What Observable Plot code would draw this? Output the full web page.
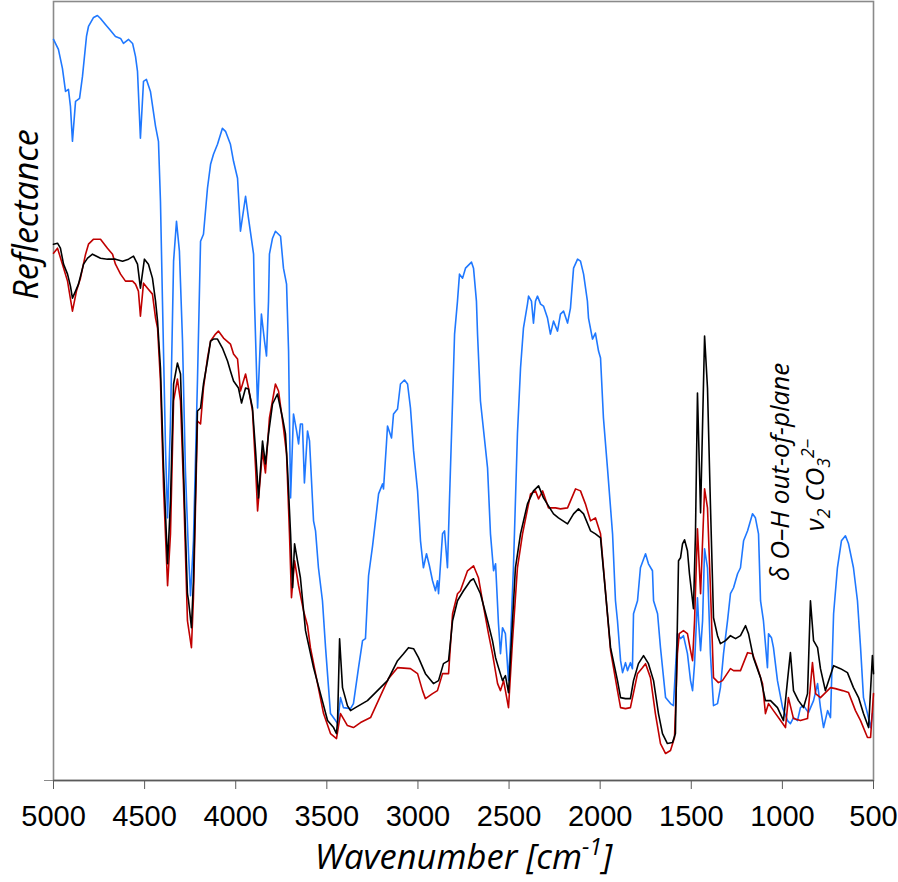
<!DOCTYPE html>
<html>
<head>
<meta charset="utf-8">
<script src="https://cdn.jsdelivr.net/npm/d3@7"></script>
<script src="https://cdn.jsdelivr.net/npm/@observablehq/plot@0.6"></script>
<style>
  body { margin: 0; background: #fff; }
</style>
</head>
<body>
<div id="chart"></div>
<script>
// ---- tick labels ----
const xTicks = [5000, 4500, 4000, 3500, 3000, 2500, 2000, 1500, 1000, 500];

// ---- blue spectrum ----
const blueW = [5000,4973,4951,4934,4918,4907,4896,4879,4857,4841,4819,4808,4780,4759,4742,4715,4687,4660,4632,4616,4588,4566,4550,4539,4523,4506,4490,4468,4440,4424,4413,4402,4385,4374,4358,4341,4325,4309,4292,4276,4259,4248,4232,4210,4193,4177,4155,4138,4122,4100,4073,4056,4029,4012,3990,3974,3946,3930,3902,3897,3880,3859,3842,3831,3820,3815,3798,3782,3754,3738,3721,3710,3699,3683,3666,3655,3645,3634,3623,3606,3595,3573,3562,3546,3524,3507,3480,3452,3441,3425,3409,3370,3354,3326,3304,3288,3271,3249,3233,3216,3194,3189,3173,3167,3145,3134,3112,3096,3074,3057,3041,3024,3002,2986,2970,2953,2937,2920,2904,2893,2887,2865,2854,2838,2827,2810,2799,2783,2772,2755,2739,2706,2695,2679,2673,2657,2618,2602,2585,2574,2558,2547,2536,2520,2503,2492,2476,2454,2437,2421,2399,2393,2377,2366,2355,2344,2327,2311,2289,2273,2256,2234,2218,2201,2179,2163,2146,2124,2108,2091,2070,2064,2042,2026,2009,1998,1982,1960,1932,1916,1905,1888,1877,1861,1850,1834,1823,1817,1795,1779,1751,1735,1713,1707,1685,1669,1641,1614,1598,1576,1559,1543,1521,1504,1493,1482,1466,1460,1449,1438,1427,1411,1395,1378,1356,1340,1323,1301,1285,1268,1246,1230,1213,1191,1164,1148,1131,1120,1104,1082,1076,1060,1049,1027,999,972,956,939,917,901,884,857,829,807,791,774,752,736,719,698,676,654,637,610,588,571,555,533,516,506];
const blueR = [74.2,73.2,71.3,69.0,69.2,67.5,64.0,68.0,68.3,70.5,74.5,75.5,76.4,76.6,76.3,75.7,75.1,74.5,74.3,73.8,74.2,73.8,72.5,71.0,64.3,70.0,70.2,69.0,65.5,64.0,58.0,48.0,33.0,26.3,36.0,52.0,56.0,53.0,44.0,31.0,22.7,18.5,24.0,40.0,54.0,54.7,59.3,61.7,62.7,63.7,65.3,65.0,63.7,62.0,60.3,55.0,58.5,56.3,52.7,48.0,37.3,46.7,44.0,42.5,48.0,52.7,54.3,55.0,54.5,51.3,49.7,43.0,28.3,36.7,35.0,33.7,35.7,35.7,29.8,35.0,34.0,26.0,25.0,21.3,18.0,13.3,6.7,6.0,5.7,8.3,7.3,7.2,7.7,11.3,14.0,14.2,20.5,23.5,26.0,28.7,29.7,29.2,33.7,35.5,34.3,36.7,37.2,39.7,40.1,39.7,37.3,33.0,29.0,24.0,21.3,22.7,21.5,20.0,19.0,20.0,18.7,24.7,25.0,21.3,28.0,38.0,44.7,48.0,50.7,50.3,51.3,51.9,51.3,48.0,44.7,38.0,31.3,24.7,21.0,21.7,15.7,12.7,15.3,14.7,10.0,14.0,21.3,34.7,41.3,45.3,47.7,48.5,48.0,45.8,48.0,48.5,47.7,47.5,46.3,44.7,46.0,45.0,46.7,47.0,45.8,47.3,51.3,52.2,52.0,50.7,48.0,46.3,44.2,44.8,43.0,42.3,36.3,31.3,24.7,18.0,16.0,12.0,10.8,11.8,11.0,11.8,11.2,16.7,18.0,21.3,22.7,21.7,21.0,18.0,16.7,13.3,8.3,7.7,7.5,14.7,14.2,14.5,12.7,10.0,9.0,11.7,18.3,16.0,13.0,16.0,23.2,21.3,12.7,7.5,7.7,9.3,12.7,16.0,18.7,19.3,20.7,21.3,24.0,25.0,26.7,26.3,24.7,18.0,16.0,11.3,14.7,14.3,13.3,10.0,7.3,6.0,5.7,6.3,6.0,7.3,7.5,6.8,8.0,9.7,7.3,5.3,7.0,6.3,16.7,21.3,24.0,24.5,23.7,21.3,18.0,13.3,8.3,6.7,5.3,6.7];

// ---- red spectrum ----
const redW = [5000,4978,4951,4923,4896,4874,4852,4824,4808,4780,4742,4704,4676,4660,4632,4605,4566,4550,4534,4523,4506,4484,4457,4440,4429,4413,4396,4374,4358,4341,4320,4303,4287,4265,4243,4232,4210,4193,4177,4155,4138,4111,4095,4067,4029,4012,3990,3974,3946,3930,3908,3891,3880,3853,3837,3815,3782,3765,3738,3721,3705,3694,3677,3655,3628,3606,3590,3551,3518,3480,3447,3425,3387,3354,3315,3260,3205,3162,3112,3041,3002,2975,2959,2920,2893,2865,2832,2810,2783,2767,2728,2695,2668,2646,2613,2591,2563,2547,2530,2503,2481,2454,2426,2382,2355,2338,2316,2284,2245,2218,2179,2135,2108,2081,2053,2026,1998,1943,1905,1888,1861,1834,1795,1768,1751,1724,1697,1669,1641,1614,1592,1576,1566,1543,1521,1504,1493,1482,1466,1449,1427,1411,1395,1378,1351,1329,1285,1268,1230,1191,1164,1137,1109,1093,1076,1049,1010,983,967,939,901,862,835,818,791,736,709,670,637,599,571,533,516,500];
const redR = [52.8,53.3,51.7,50.0,47.0,49.0,50.3,52.7,53.7,54.2,54.2,53.3,52.7,51.7,50.7,50.0,50.0,49.7,49.0,46.5,49.8,49.3,48.7,46.3,45.3,40.0,29.3,19.5,24.7,38.0,40.2,38.0,29.7,16.0,13.3,18.3,36.0,35.7,39.3,42.3,44.0,44.7,45.0,44.3,43.7,42.7,42.2,39.0,40.7,39.3,37.0,31.3,27.0,33.0,30.8,36.3,39.7,39.0,35.3,32.7,24.7,18.3,22.0,19.5,17.0,15.5,13.3,9.7,6.7,4.7,4.2,6.7,5.5,5.3,5.8,6.3,8.5,10.2,11.3,11.2,10.7,9.0,8.2,8.7,9.0,10.7,10.7,16.7,18.7,19.0,21.0,21.5,20.3,18.0,14.7,12.7,9.7,9.0,10.0,7.3,14.0,21.3,24.7,28.7,29.0,28.2,29.0,27.3,27.3,27.2,27.3,29.2,29.0,27.7,26.0,26.3,24.7,13.0,9.0,7.3,7.2,7.3,10.7,11.3,11.7,10.3,6.7,3.7,2.7,3.0,4.3,12.7,14.7,15.0,14.7,13.0,12.0,16.0,25.2,18.7,29.2,27.3,19.3,10.3,9.8,10.0,11.2,11.0,11.0,12.8,12.7,11.3,9.7,6.7,7.7,7.0,6.0,5.3,8.3,6.2,6.0,6.2,11.8,8.7,8.3,9.3,9.2,9.0,8.8,7.0,6.0,4.3,4.3,8.7];

// ---- black spectrum ----
const blackW = [5000,4978,4962,4945,4923,4907,4896,4879,4863,4835,4813,4786,4742,4704,4660,4621,4588,4561,4539,4523,4501,4479,4457,4440,4429,4413,4396,4374,4358,4341,4320,4303,4287,4265,4259,4243,4232,4210,4193,4177,4155,4138,4122,4100,4073,4045,4029,4012,3985,3968,3946,3930,3908,3891,3875,3853,3837,3820,3798,3771,3743,3727,3716,3699,3688,3677,3661,3645,3617,3573,3535,3496,3463,3447,3441,3430,3414,3387,3370,3343,3277,3222,3167,3112,3079,3052,3024,2997,2959,2915,2887,2860,2832,2810,2783,2750,2712,2695,2657,2618,2591,2574,2558,2536,2520,2503,2487,2465,2437,2399,2366,2338,2311,2284,2256,2229,2179,2146,2119,2091,2053,2026,1998,1943,1905,1888,1861,1834,1817,1790,1762,1735,1707,1680,1658,1631,1603,1587,1576,1570,1559,1548,1537,1521,1510,1493,1488,1477,1466,1449,1427,1411,1395,1378,1356,1340,1312,1285,1257,1230,1202,1186,1159,1120,1093,1065,1027,994,972,956,939,912,884,862,846,829,807,791,764,719,681,643,610,582,555,527,506,500];
const blackR = [53.7,53.8,53.3,51.7,50.7,49.5,48.3,49.0,49.7,51.7,52.3,52.7,52.3,52.2,52.2,52.0,52.2,52.5,51.7,49.3,52.2,51.7,50.3,48.0,46.0,41.3,31.3,21.7,28.0,39.7,41.8,40.7,31.3,18.7,18.0,15.3,20.0,37.0,37.3,39.7,42.0,44.0,44.2,44.2,43.3,42.0,41.0,40.0,39.3,37.8,39.3,39.2,37.3,33.0,28.3,34.0,31.7,34.7,37.7,38.7,36.3,34.7,31.3,24.7,19.3,23.7,22.0,20.3,15.0,11.3,8.7,6.0,5.3,4.7,6.0,14.2,9.3,7.5,7.0,7.3,8.0,9.0,10.0,12.0,12.7,13.3,13.2,12.3,10.7,9.7,10.0,11.7,12.0,16.0,18.0,19.0,20.0,20.2,18.7,16.0,14.0,12.3,11.3,10.0,10.5,8.8,14.0,21.3,24.7,27.7,29.0,29.5,28.3,27.5,26.7,26.3,25.7,26.7,27.2,26.7,25.0,24.7,24.3,13.3,10.0,8.3,8.2,8.2,10.0,11.7,12.5,11.7,10.0,6.7,4.7,3.7,3.8,4.7,16.0,22.0,22.3,23.7,24.1,23.0,20.7,18.0,17.2,24.7,38.8,26.8,44.5,39.3,27.7,16.3,14.5,13.7,14.0,14.5,14.2,14.5,15.5,14.7,12.3,10.3,8.0,8.0,7.3,6.0,10.0,12.8,9.0,8.0,7.3,8.7,18.0,14.0,13.3,11.2,9.0,11.5,11.2,10.8,9.3,8.3,6.7,5.3,12.5,10.7];

// ---- texts ----
const yLabelText = "Reflectance";
const xLabelParts = [["Wavenumber [cm", ""], ["-1", "sup"], ["]", ""]];
const annoWavenumbers = [966, 769];
const annoLevels = [30.9, 29.6];
const annoParts = [
  [["δ O–H out-of-plane", ""]],
  [["ν", ""], ["2", "sub"], [" CO", ""], ["3", "sub"], ["2−", "sup"]]
];

const joinParts = p => p.map(d => d[0]).join("");
const toRows = (W, R) => W.map((w, i) => ({w, r: R[i]}));
const annotations = annoWavenumbers.map((w, i) => ({w, r: annoLevels[i], label: joinParts(annoParts[i])}));

const sans = "'Open Sans', sans-serif";
const chart = Plot.plot({
  width: 898,
  height: 882,
  marginLeft: 53,
  marginRight: 25,
  marginTop: 1,
  marginBottom: 102,
  style: {fontFamily: "'Liberation Sans', Arial, sans-serif", background: "#fff", overflow: "visible"},
  x: {domain: [5000, 500]},
  y: {domain: [0, 78]},
  marks: [
    Plot.frame({stroke: "#8a8a8a", strokeWidth: 1.6}),
    Plot.line(toRows(blueW, blueR), {x: "w", y: "r", stroke: "#1f78ff", strokeWidth: 1.6}),
    Plot.line(toRows(redW, redR), {x: "w", y: "r", stroke: "#c00000", strokeWidth: 1.6}),
    Plot.line(toRows(blackW, blackR), {x: "w", y: "r", stroke: "#000", strokeWidth: 1.6}),
    Plot.ruleY([0], {stroke: "#5a5a5a", strokeWidth: 1.6}),
    Plot.axisX({ticks: xTicks, tickFormat: "d", tickSize: 9, tickPadding: 16, fontSize: 29,
      stroke: "#5a5a5a", fill: "#000", label: null}),
    Plot.axisY({ticks: [0], tickFormat: () => "", tickSize: 9, stroke: "#8a8a8a", label: null}),
    Plot.text([joinParts(xLabelParts)], {frameAnchor: "bottom", text: d => d, dy: 88, lineAnchor: "bottom",
      textAnchor: "middle", fontSize: 34.5, fontStyle: "italic", fontFamily: sans, fill: "#000"}),
    Plot.text([yLabelText], {frameAnchor: "top-left", text: d => d, dx: -16, dy: 213, rotate: -90,
      textAnchor: "middle", lineAnchor: "bottom", fontSize: 34, fontStyle: "italic", fontFamily: sans, fill: "#000"}),
    Plot.text(annotations, {x: "w", y: "r", text: "label", rotate: -90, lineAnchor: "bottom", textAnchor: "middle",
      fontSize: 26, fontStyle: "italic", fontFamily: sans, fill: "#000"})
  ]
});
document.getElementById("chart").appendChild(chart);

// rich text (sub/superscripts) for labels
function rich(el, parts, size) {
  while (el.firstChild) el.removeChild(el.firstChild);
  let shift = 0;
  for (const [txt, kind] of parts) {
    const target = kind === "sup" ? -0.4 * size : kind === "sub" ? 0.22 * size : 0;
    const ts = document.createElementNS("http://www.w3.org/2000/svg", "tspan");
    ts.setAttribute("dy", target - shift);
    if (kind) ts.setAttribute("font-size", 0.68 * size);
    ts.textContent = txt;
    el.appendChild(ts);
    shift = target;
  }
}
d3.select(chart).selectAll("text").each(function() {
  const t = this.textContent;
  if (t === joinParts(xLabelParts)) rich(this, xLabelParts, 34.5);
  annoParts.forEach(p => { if (t === joinParts(p) && p.length > 1) rich(this, p, 26); });
});
</script>
</body>
</html>
